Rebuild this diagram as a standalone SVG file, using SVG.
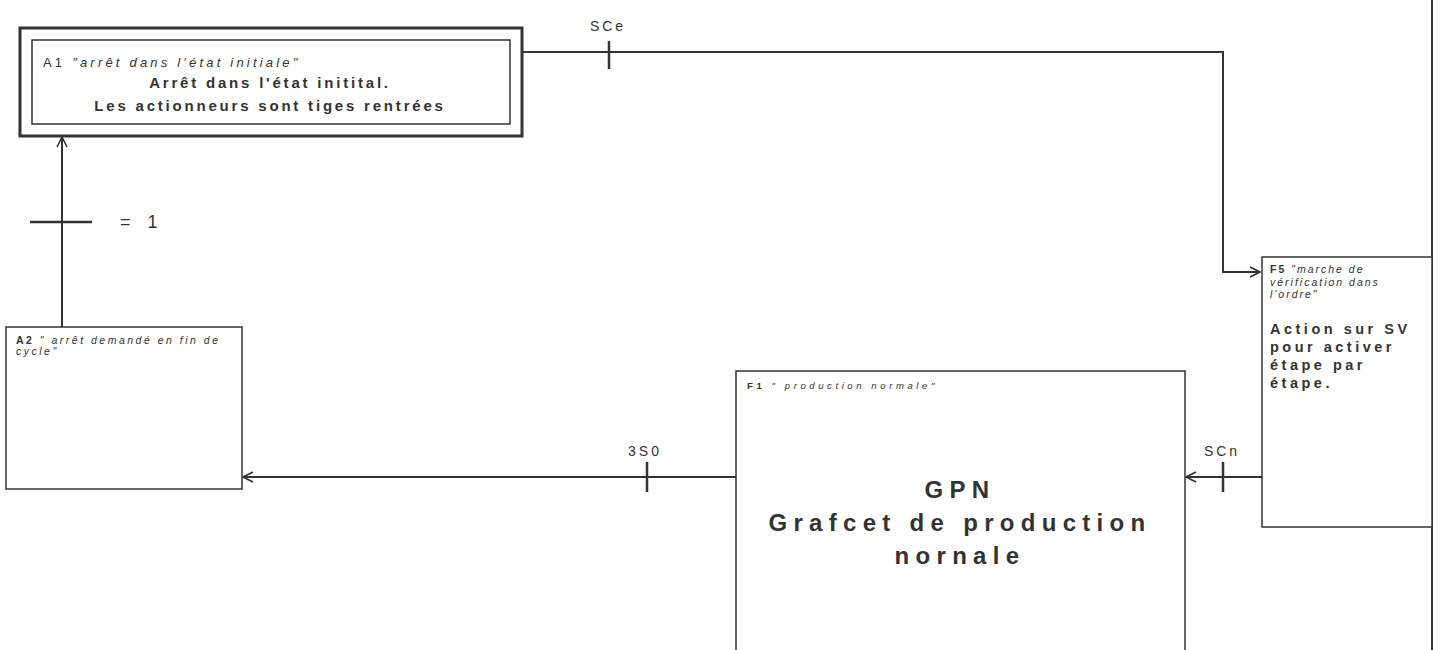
<svg xmlns="http://www.w3.org/2000/svg" width="1442" height="650" viewBox="0 0 1442 650">
<defs>
<style>
.box{fill:#fff;stroke:#333;stroke-width:1.5}
.ln{fill:none;stroke:#333;stroke-width:2}
.tk{stroke:#333;stroke-width:2.5}
text{font-family:"Liberation Sans",Arial,sans-serif;fill:#333}
.it{font-style:italic}
.b{font-weight:bold}
.lbl{font-size:14px;letter-spacing:3px}
</style>
<marker id="arr" viewBox="0 0 12 12" refX="11" refY="6" markerWidth="12" markerHeight="12" markerUnits="userSpaceOnUse" orient="auto">
<polyline points="1,1 11,6 1,11" fill="none" stroke="#333" stroke-width="1.6"/>
</marker>
</defs>
<rect width="1442" height="650" fill="#fff"/>
<g id="connectors">
<polyline class="ln" points="522,52 1223,52 1223,272 1260,272" marker-end="url(#arr)"/>
<line class="tk" x1="609" y1="41" x2="609" y2="69"/>
<text class="lbl" x="608" y="31" text-anchor="middle">SCe</text>
<line class="ln" x1="62" y1="327" x2="62" y2="137" marker-end="url(#arr)"/>
<line class="tk" x1="30" y1="222" x2="92" y2="222" stroke-width="2"/>
<text x="120" y="228" font-size="18" letter-spacing="6">= 1</text>
<line class="ln" x1="736" y1="477" x2="243" y2="477" marker-end="url(#arr)"/>
<line class="tk" x1="647" y1="462" x2="647" y2="492"/>
<text class="lbl" x="645" y="456" text-anchor="middle">3S0</text>
<line class="ln" x1="1262" y1="477" x2="1186" y2="477" marker-end="url(#arr)"/>
<line class="tk" x1="1223" y1="462" x2="1223" y2="492"/>
<text class="lbl" x="1222" y="456" text-anchor="middle">SCn</text>
<line class="ln" x1="1432" y1="0" x2="1432" y2="650" stroke-width="1.5"/>
</g>
<g id="A1">
<rect x="20" y="28" width="502" height="108" fill="#fff" stroke="#333" stroke-width="3"/>
<rect class="box" x="32" y="40" width="478" height="84"/>
<text x="43" y="67" font-size="13" letter-spacing="3.2">A1 <tspan class="it">"arrêt dans l'état initiale"</tspan></text>
<text class="b" x="270" y="88" font-size="15" letter-spacing="2.8" text-anchor="middle">Arrêt dans l'état initital.</text>
<text class="b" x="270" y="111" font-size="15" letter-spacing="2.8" text-anchor="middle">Les actionneurs sont tiges rentrées</text>
</g>
<g id="A2">
<rect class="box" x="6" y="327" width="236" height="162"/>
<text x="16" y="344" font-size="10.5" letter-spacing="2.5"><tspan class="b">A2</tspan> <tspan class="it">" arrêt demandé en fin de</tspan></text>
<text class="it" x="16" y="355" font-size="10.5" letter-spacing="2.5">cycle"</text>
</g>
<g id="F1">
<rect class="box" x="736" y="371" width="449" height="290"/>
<text x="747" y="389" font-size="9.5" letter-spacing="3.6"><tspan class="b">F1</tspan> <tspan class="it">" production normale"</tspan></text>
<text class="b" x="960" y="498" font-size="24" letter-spacing="6.3" text-anchor="middle">GPN</text>
<text class="b" x="960" y="531" font-size="24" letter-spacing="6.3" text-anchor="middle">Grafcet de production</text>
<text class="b" x="960" y="564" font-size="24" letter-spacing="6.3" text-anchor="middle">nornale</text>
</g>
<g id="F5">
<rect class="box" x="1262" y="257" width="170" height="270"/>
<text x="1270" y="273" font-size="10.5" letter-spacing="2"><tspan class="b">F5</tspan> <tspan class="it">"marche de</tspan></text>
<text class="it" x="1270" y="286" font-size="10.5" letter-spacing="2">vérification dans</text>
<text class="it" x="1270" y="298" font-size="10.5" letter-spacing="2">l'ordre"</text>
<text class="b" x="1270" y="334" font-size="14.5" letter-spacing="3.5">Action sur SV</text>
<text class="b" x="1270" y="352" font-size="14.5" letter-spacing="3.5">pour activer</text>
<text class="b" x="1270" y="370" font-size="14.5" letter-spacing="3.5">étape par</text>
<text class="b" x="1270" y="388" font-size="14.5" letter-spacing="3.5">étape.</text>
</g>
</svg>
